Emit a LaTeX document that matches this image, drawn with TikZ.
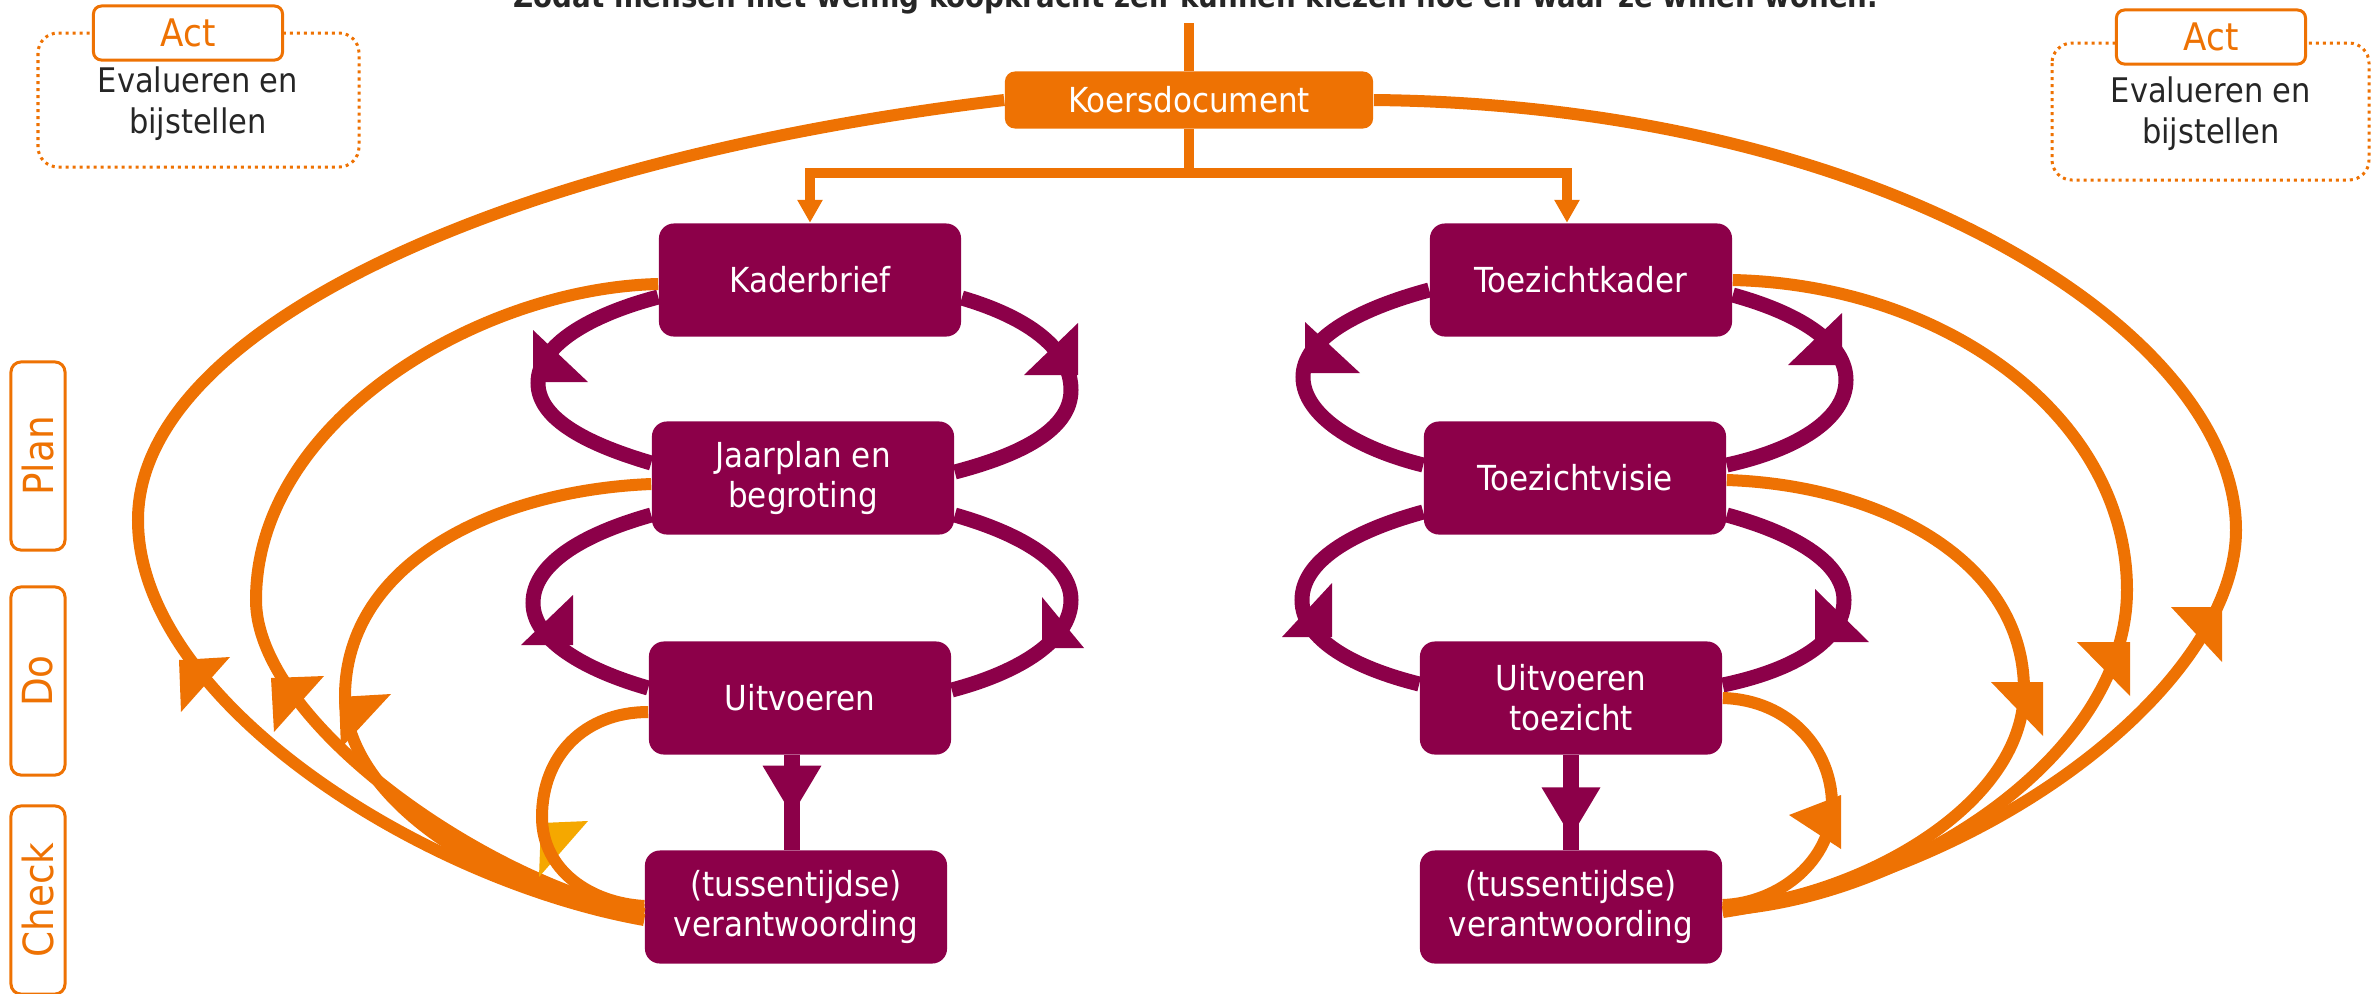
\documentclass[tikz,border=0pt]{standalone}
\usepackage{fontspec}
\setmainfont{DejaVu Sans Condensed}
\usepackage{tikz}
\usetikzlibrary{arrows.meta, calc, decorations.markings}
\definecolor{koersoranje}{HTML}{EE7203}
\definecolor{kaderpaars}{HTML}{8C0049}
\definecolor{pijlgeel}{HTML}{F5A800}
\definecolor{tekstgrijs}{HTML}{262626}

\begin{document}
\begin{tikzpicture}[x=0.01cm, y=-0.01cm,
  stap/.style={fill=kaderpaars, text=white, rounded corners=0.15cm, minimum width=3.02cm, minimum height=1.13cm, inner sep=0pt, align=center, font=\fontsize{9.8}{11.38}\selectfont},
  koersbox/.style={fill=koersoranje, text=white, rounded corners=0.1cm, minimum width=3.68cm, minimum height=0.57cm, inner sep=0pt, font=\fontsize{9.8}{11.38}\selectfont},
  fasebox/.style={draw=koersoranje, line width=0.03cm, rounded corners=0.1cm, text=koersoranje, rotate=90, minimum width=1.88cm, minimum height=0.54cm, inner sep=0pt, font=\fontsize{11.8}{13}\selectfont},
  acttab/.style={draw=koersoranje, fill=white, line width=0.03cm, rounded corners=0.08cm, text=koersoranje, minimum width=1.89cm, minimum height=0.54cm, inner sep=0pt, font=\fontsize{10.8}{12}\selectfont},
  actkader/.style={draw=koersoranje, line width=0.03cm, dash pattern=on 0.03cm off 0.04cm, rounded corners=0.2cm},
  acttekst/.style={text=tekstgrijs, align=center, inner sep=0pt, font=\fontsize{9.64}{11.6}\selectfont},
  lus/.style={draw=kaderpaars, line width=0.15cm},
  terug/.style={draw=koersoranje, line width=0.12cm},
  lijn/.style={draw=koersoranje, line width=0.1cm},
  doorpijl/.style={draw=kaderpaars, line width=0.16cm, postaction={decorate}, decoration={markings, mark=at position #1 with {\arrow{Triangle[width=0.55cm,length=0.5cm]}}}},
]
  \useasboundingbox (0,0) rectangle (2374,993);

  % Kop (valt deels buiten beeld)
  \node[anchor=base, text=tekstgrijs, font=\fontsize{8.75}{10}\selectfont\bfseries] (kop) at (1196,7) {Zodat mensen met weinig koopkracht zelf kunnen kiezen hoe en waar ze willen wonen.};

  % Act links en rechts
  \draw[actkader] (38,33) rectangle (359,167);
  \node[acttab] (actL) at (188,33) {Act};
  \node[acttekst] (evalL) at (198,104) {Evalueren en\\bijstellen};
  \draw[actkader] (2052,43) rectangle (2369,180);
  \node[acttab] (actR) at (2211,37) {Act};
  \node[acttekst] (evalR) at (2211,114) {Evalueren en\\bijstellen};

  % Plan, Do, Check
  \node[fasebox] (plan) at (38,456) {Plan};
  \node[fasebox] (do) at (38,681) {Do};
  \node[fasebox] (check) at (38,900) {Check};

  % Stappen
  \node[koersbox] (koers) at (1189,100) {Koersdocument};
  \node[stap] (kader) at (810,280) {Kaderbrief};
  \node[stap] (jaar) at (803,478) {Jaarplan en\\begroting};
  \node[stap] (uitv) at (800,698) {Uitvoeren};
  \node[stap] (verl) at (796,907) {(tussentijdse)\\verantwoording};
  \node[stap] (toezk) at (1581,280) {Toezichtkader};
  \node[stap] (toezv) at (1575,478) {Toezichtvisie};
  \node[stap] (uitt) at (1571,698) {Uitvoeren\\toezicht};
  \node[stap] (verr) at (1571,907) {(tussentijdse)\\verantwoording};

  % Koersdocument naar beide kolommen
  \coordinate (bovenrand) at (1189,23);
  \draw[lijn] (bovenrand) -- (koers.north);
  \draw[lijn] (koers.south) -- ++(0,44) coordinate (splitsing);
  \draw[lijn, -{Triangle[width=0.24cm,length=0.23cm]}] (splitsing) -| (kader.north);
  \draw[lijn, -{Triangle[width=0.24cm,length=0.23cm]}] (splitsing) -| ([xshift=-0.14cm]toezk.north);

  % Paarse lussen links
  \draw[lus] ($(kader.west)+(0,17)$) .. controls (590,315) and (538,345) .. (538,383) .. controls (538,420) and (590,445) .. ($(jaar.west)+(0,-15)$);
  \draw[lus] ($(kader.east)+(0,18)$) .. controls (1030,318) and (1071,350) .. (1071,390) .. controls (1071,430) and (1020,455) .. ($(jaar.east)+(0,-6)$);
  \draw[lus] ($(jaar.west)+(0,37)$) .. controls (580,535) and (533,565) .. (533,603) .. controls (533,640) and (585,670) .. ($(uitv.west)+(0,-10)$);
  \draw[lus] ($(jaar.east)+(0,37)$) .. controls (1025,535) and (1071,565) .. (1071,600) .. controls (1071,640) and (1020,672) .. ($(uitv.east)+(0,-8)$);
  \fill[kaderpaars] (533,330) -- (533,382) -- (588,382) -- cycle;
  \fill[kaderpaars] (1078,323) -- (1078,375) -- (1024,375) -- cycle;
  \fill[kaderpaars] (573,595) -- (573,645) -- (521,645) -- cycle;
  \fill[kaderpaars] (1042,597) -- (1042,648) -- (1084,648) -- cycle;

  % Paarse lussen rechts
  \draw[lus] ($(toezk.west)+(0,10)$) .. controls (1355,310) and (1303,340) .. (1303,377) .. controls (1303,415) and (1355,448) .. ($(toezv.west)+(0,-13)$);
  \draw[lus] ($(toezk.east)+(0,15)$) .. controls (1805,315) and (1846,345) .. (1846,380) .. controls (1846,420) and (1795,450) .. ($(toezv.east)+(0,-13)$);
  \draw[lus] ($(toezv.west)+(0,34)$) .. controls (1350,532) and (1302,562) .. (1302,600) .. controls (1302,640) and (1355,668) .. ($(uitt.west)+(0,-14)$);
  \draw[lus] ($(toezv.east)+(0,37)$) .. controls (1800,535) and (1844,565) .. (1844,600) .. controls (1844,640) and (1795,670) .. ($(uitt.east)+(0,-13)$);
  \fill[kaderpaars] (1305,322) -- (1305,373) -- (1360,373) -- cycle;
  \fill[kaderpaars] (1842,313) -- (1842,365) -- (1788,365) -- cycle;
  \fill[kaderpaars] (1332,583) -- (1332,637) -- (1282,637) -- cycle;
  \fill[kaderpaars] (1815,589) -- (1815,642) -- (1869,642) -- cycle;

  % Uitvoeren naar verantwoording
  \draw[doorpijl=0.64] ($(uitv.south)+(-8,0)$) -- ($(verl.north)+(-4,0)$);
  \draw[doorpijl=0.87] (uitt.south) -- (verr.north);

  % Oranje terugkoppeling links
  \draw[terug] (koers.west) .. controls (500,160) and (138,330) .. (138,520) .. controls (138,700) and (420,880) .. ($(verl.west)+(0,13)$);
  \draw[terug] ($(kader.west)+(0,4)$) .. controls (480,288) and (256,420) .. (256,600) .. controls (256,720) and (480,880) .. ($(verl.west)+(0,7)$);
  \draw[terug] ($(jaar.west)+(0,6)$) .. controls (500,490) and (345,560) .. (345,697) .. controls (345,800) and (500,900) .. ($(verl.west)+(0,3)$);
  \fill[pijlgeel] (541,823) -- (588,821) -- (539,877) -- cycle;
  \draw[terug] ($(uitv.west)+(0,14)$) .. controls (585,712) and (542,755) .. (542,817) .. controls (542,870) and (590,903) .. ($(verl.west)+(0,-1)$);
  \fill[koersoranje] (179,660) -- (230,657) -- (181,712) -- cycle;
  \fill[koersoranje] (271,678) -- (324,676) -- (274,732) -- cycle;
  \fill[koersoranje] (339,697) -- (391,694) -- (341,748) -- cycle;

  % Oranje terugkoppeling rechts
  \draw[terug] (koers.east) .. controls (1880,105) and (2236,330) .. (2236,530) .. controls (2236,680) and (2000,870) .. ($(verr.east)+(0,5)$);
  \draw[terug] (toezk.east) .. controls (1950,285) and (2127,420) .. (2127,590) .. controls (2127,760) and (1900,900) .. ($(verr.east)+(0,3)$);
  \draw[terug] ($(toezv.east)+(0,2)$) .. controls (1880,485) and (2024,560) .. (2024,690) .. controls (2024,810) and (1850,900) .. ($(verr.east)+(0,1)$);
  \draw[terug] (uitt.east) .. controls (1790,700) and (1832,750) .. (1832,805) .. controls (1832,860) and (1780,903) .. ($(verr.east)+(0,-2)$);
  \fill[koersoranje] (2171,607) -- (2222,607) -- (2222,662) -- cycle;
  \fill[koersoranje] (2077,642) -- (2130,642) -- (2130,696) -- cycle;
  \fill[koersoranje] (1991,682) -- (2043,682) -- (2043,736) -- cycle;
  \fill[koersoranje] (1789,815) -- (1841,795) -- (1841,849) -- cycle;
\end{tikzpicture}
\end{document}
